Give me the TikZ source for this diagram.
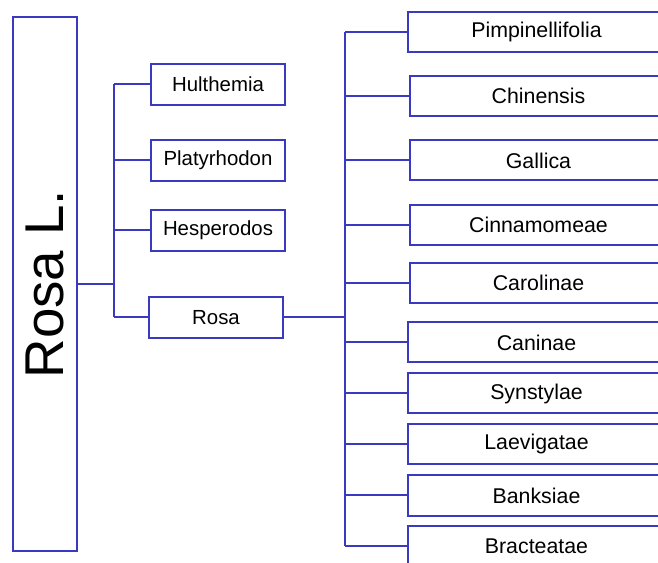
\documentclass[tikz,border=0pt]{standalone}
\usepackage{fontspec}
\setmainfont{Liberation Sans}
\definecolor{lineblue}{RGB}{58,58,192}
\begin{document}
\begin{tikzpicture}[x=0.75pt,y=-0.75pt,
  conn/.style={draw=lineblue,line width=1.5pt},
  leftbox/.style={draw=lineblue,line width=1.5pt,minimum width=100.5pt,minimum height=30.75pt,inner sep=0pt,font=\fontsize{15.3pt}{18pt}\selectfont},
  rightbox/.style={draw=lineblue,line width=1.5pt,minimum width=192.75pt,minimum height=30pt,inner sep=0pt,font=\fontsize{16pt}{19pt}\selectfont}]
\useasboundingbox (0,0) rectangle (658,563);
\clip (0,0) rectangle (658,563);
% root
\node[draw=lineblue,line width=1.5pt,rotate=90,minimum width=400.5pt,minimum height=48pt,inner sep=0pt,font=\fontsize{41pt}{48pt}\selectfont] (root) at (45,284) {Rosa L.};
% first level
\node[leftbox] (hul) at (218,84.5) {Hulthemia};
\node[leftbox] (pla) at (218,160.5) {Platyrhodon};
\node[leftbox] (hes) at (218,230.5) {Hesperodos};
\node[leftbox] (ros) at (216,317.5) {Rosa};
\coordinate (t1) at (114,0);
\draw[conn] (root.south) -- (root.south -| t1);
\draw[conn] (hul.west -| t1) -- (ros.west -| t1);
\draw[conn] (hul.west) -- (hul.west -| t1);
\draw[conn] (pla.west) -- (pla.west -| t1);
\draw[conn] (hes.west) -- (hes.west -| t1);
\draw[conn] (ros.west) -- (ros.west -| t1);
% second level
\node[rightbox] (pim) at (536.5,32) {Pimpinellifolia};
\node[rightbox] (chi) at (538.5,96) {Chinensis};
\node[rightbox] (gal) at (538.5,160.5) {Gallica};
\node[rightbox] (cin) at (538.5,225) {Cinnamomeae};
\node[rightbox] (car) at (538.5,283) {Carolinae};
\node[rightbox] (can) at (536.5,342.5) {Caninae};
\node[rightbox] (syn) at (536.5,393.5) {Synstylae};
\node[rightbox] (lae) at (536.5,444) {Laevigatae};
\node[rightbox] (ban) at (536.5,495.5) {Banksiae};
\node[rightbox] (bra) at (536.5,546) {Bracteatae};
\coordinate (t2) at (345,0);
\draw[conn] (ros.east) -- (ros.east -| t2);
\draw[conn] (pim.west -| t2) -- (bra.west -| t2);
\foreach \n in {pim,chi,gal,cin,car,can,syn,lae,ban,bra}
  \draw[conn] (\n.west) -- (\n.west -| t2);
\end{tikzpicture}
\end{document}
